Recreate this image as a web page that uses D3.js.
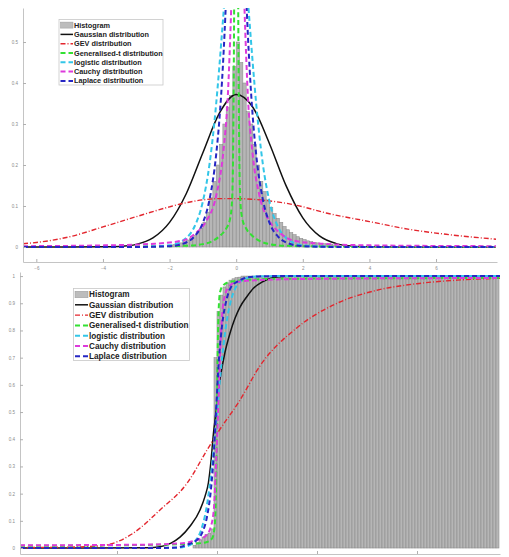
<!DOCTYPE html>
<html>
<head>
<meta charset="utf-8">
<script src="https://cdn.jsdelivr.net/npm/d3@7"></script>
<style>
  body { margin: 0; background: #fff; }
  text { font-family: "Liberation Sans", Arial, sans-serif; }
</style>
</head>
<body>
<svg id="chart" width="509" height="557"></svg>
<script>

// ---- top panel: density ----
var histTopStart = -2.0, histTopWidth = 0.1;
var histTopHeights = [0.004, 0.006, 0.008, 0.01, 0.013, 0.017, 0.022, 0.028, 0.035, 0.045,
                      0.06, 0.085, 0.12, 0.16, 0.2, 0.25, 0.3, 0.34, 0.37, 0.44,
                      0.5, 0.45, 0.4, 0.33, 0.3, 0.25, 0.2, 0.16, 0.135, 0.115,
                      0.097, 0.082, 0.07, 0.06, 0.05, 0.042, 0.035, 0.03, 0.025, 0.021,
                      0.018, 0.015, 0.013, 0.011, 0.01, 0.009, 0.008, 0.007, 0.006, 0.005];

var gaussPdfX = [-6.4, -5, -4, -3.5, -3, -2.5, -2, -1.5, -1, -0.5, 0, 0.5, 1, 1.5, 2, 2.5, 3, 3.5, 4, 5, 7.8];
var gaussPdfY = [0, 0, 0.0003, 0.0015, 0.0064, 0.022, 0.06, 0.13, 0.23, 0.327, 0.372, 0.341, 0.252, 0.149, 0.071, 0.027, 0.0083, 0.0021, 0.0005, 0, 0];

var gevPdfX = [-6.4, -6, -5, -4, -3, -2, -1.5, -1, -0.5, 0, 0.7, 1.8, 2.7, 4, 5.2, 6.3, 7.8];
var gevPdfY = [0.008, 0.011, 0.025, 0.049, 0.074, 0.098, 0.108, 0.115, 0.118, 0.118, 0.115, 0.102, 0.083, 0.062, 0.043, 0.031, 0.019];

var gentPdfX = [-6.4, -3, -1.5, -1, -0.7, -0.45, -0.3, -0.18, -0.12, -0.09, -0.06, -0.03, 0, 0.03, 0.06, 0.09, 0.12, 0.18, 0.3, 0.45, 0.7, 1, 1.5, 3, 7.8];
var gentPdfY = [0.0003, 0.001, 0.003, 0.007, 0.015, 0.03, 0.045, 0.07, 0.12, 0.25, 0.6, 1.2, 3, 1.2, 0.6, 0.25, 0.12, 0.07, 0.045, 0.03, 0.015, 0.007, 0.003, 0.001, 0.0003];

var logisPdfX = [-6.4, -3, -2, -1.5, -1.25, -1, -0.8, -0.6, -0.5, -0.4, -0.3, -0.2, -0.1, 0, 0.1, 0.2, 0.3, 0.4, 0.5, 0.6, 0.8, 1, 1.25, 1.5, 2, 3, 7.8];
var logisPdfY = [0, 0.0002, 0.0042, 0.022, 0.05, 0.111, 0.2025, 0.35, 0.4455, 0.55, 0.655, 0.747, 0.811, 0.833, 0.811, 0.747, 0.655, 0.55, 0.4455, 0.35, 0.2025, 0.111, 0.05, 0.022, 0.0042, 0.0002, 0];

var cauchyPdfX = [-6.4, -3.95, -2.45, -1.6, -1.2, -0.9, -0.6, -0.38, -0.25, -0.15, -0.05, 0.05, 0.15, 0.25, 0.35, 0.48, 0.7, 1.0, 1.3, 1.7, 2.55, 4.05, 7.8];
var cauchyPdfY = [0.002, 0.004, 0.008, 0.016, 0.035, 0.063, 0.125, 0.237, 0.37, 0.58, 0.85, 1.1, 0.85, 0.58, 0.37, 0.237, 0.125, 0.063, 0.035, 0.016, 0.008, 0.004, 0.002];

var laplacePdfX = [-6.4, -3, -2, -1.5, -1.25, -1, -0.8, -0.6, -0.5, -0.4, -0.3, -0.2, -0.1, 0, 0.1, 0.2, 0.3, 0.4, 0.5, 0.6, 0.8, 1, 1.25, 1.5, 2, 3, 7.8];
var laplacePdfY = [0, 0.0001, 0.002, 0.011, 0.026, 0.059, 0.116, 0.226, 0.315, 0.44, 0.614, 0.857, 1.196, 1.67, 1.196, 0.857, 0.614, 0.44, 0.315, 0.226, 0.116, 0.059, 0.026, 0.011, 0.002, 0.0001, 0];

var topTicksX = [-6, -4, -2, 0, 2, 4, 6];
var topTicksY = [0, 0.1, 0.2, 0.3, 0.4, 0.5];

// ---- bottom panel: cumulative ----
var histBotStart = -1.2, histBotWidth = 0.15;
var histBotHeights = [0.01, 0.02, 0.03, 0.04, 0.05, 0.055, 0.07, 0.7, 0.87, 0.93,
                      0.96, 0.975, 0.985, 0.99, 0.994, 0.996, 1, 1, 1, 1,
                      1, 1, 1, 1, 1, 1, 1, 1, 1, 1,
                      1, 1, 1, 1, 1, 1, 1, 1, 1, 1,
                      1, 1, 1, 1, 1, 1, 1, 1, 1, 1,
                      1, 1, 1, 1, 1, 1, 1, 1, 1, 1,
                      1, 1, 1, 1, 1, 1, 1, 1, 1, 1,
                      1, 1, 1, 1, 1, 1, 1, 1, 1, 1,
                      1, 1, 1, 1, 1, 1, 1, 1, 1, 1,
                      1, 1, 1, 1, 1, 1, 1, 1, 1, 1,
                      1, 1];

var gaussCdfX = [-9.85, -3.5, -2.85, -2.3, -1.85, -1.35, -0.85, -0.6, -0.43, -0.3, -0.18, -0.05, 0.15, 0.4, 0.65, 0.9, 1.15, 1.5, 1.82, 2.3, 2.98, 4, 14.15];
var gaussCdfY = [0, 0.001, 0.005, 0.018, 0.04, 0.08, 0.14, 0.19, 0.24, 0.32, 0.42, 0.5, 0.62, 0.72, 0.79, 0.845, 0.886, 0.925, 0.955, 0.98, 0.997, 1, 1];

var gevCdfX = [-9.85, -7.5, -5.8, -4.2, -2.85, -1.5, -0.5, 0, 1.15, 2.15, 4, 6, 8, 10, 12, 14.15];
var gevCdfY = [0.002, 0.003, 0.008, 0.054, 0.14, 0.238, 0.36, 0.42, 0.544, 0.67, 0.81, 0.9, 0.948, 0.972, 0.985, 0.992];

var gentCdfX = [-9.85, -3, -1.5, -0.8, -0.5, -0.25, -0.15, -0.07, -0.03, 0, 0.03, 0.07, 0.15, 0.3, 0.6, 1.5, 3, 14.15];
var gentCdfY = [0.008, 0.012, 0.015, 0.018, 0.022, 0.035, 0.06, 0.15, 0.3, 0.5, 0.7, 0.85, 0.94, 0.965, 0.978, 0.986, 0.99, 0.993];

var logisCdfX = [-9.85, -3, -2, -1.5, -1, -0.75, -0.5, -0.25, 0, 0.25, 0.5, 0.75, 1, 1.5, 2, 3, 14.15];
var logisCdfY = [0, 0.0001, 0.0013, 0.0067, 0.0344, 0.076, 0.159, 0.303, 0.5, 0.697, 0.841, 0.924, 0.966, 0.993, 0.9987, 1, 1];

var cauchyCdfX = [-9.85, -4, -1.85, -1.1, -0.75, -0.5, -0.3, -0.15, -0.05, 0.05, 0.15, 0.25, 0.4, 0.65, 1, 2, 5, 14.15];
var cauchyCdfY = [0.01, 0.012, 0.017, 0.027, 0.036, 0.05, 0.08, 0.15, 0.3, 0.5, 0.7, 0.85, 0.93, 0.965, 0.978, 0.985, 0.99, 0.993];

var laplaceCdfX = [-9.85, -3, -2, -1.5, -1, -0.75, -0.5, -0.3, -0.15, -0.05, 0.1, 0.25, 0.5, 0.75, 1, 1.5, 2, 3, 14.15];
var laplaceCdfY = [0, 0, 0.002, 0.012, 0.03, 0.055, 0.115, 0.217, 0.358, 0.5, 0.697, 0.816, 0.92, 0.965, 0.979, 0.9945, 0.9985, 1, 1];

var botTicksX = [-5, 0, 5, 10];
var botTicksY = [0, 0.1, 0.2, 0.3, 0.4, 0.5, 0.6, 0.7, 0.8, 0.9, 1];

var names = ["Histogram", "Gaussian distribution", "GEV distribution", "Generalised-t distribution",
             "logistic distribution", "Cauchy distribution", "Laplace distribution"];

// line styles, one per fitted curve (same order as names without the histogram)
var styles = [
  {color: "#111111", dash: null, width: 1.5},
  {color: "#e3262e", dash: "5,2,1,2", width: 1.4},
  {color: "#33e033", dash: "5,3", width: 2},
  {color: "#33c6e8", dash: "5,3", width: 2},
  {color: "#dd3adb", dash: "5,3", width: 2},
  {color: "#2626c4", dash: "5,3", width: 2}
];

var svg = d3.select("#chart");

function drawPanel(cfg) {
  var g = svg.append("g");
  var x = cfg.x, y = cfg.y;
  var clipId = cfg.id + "-clip";

  svg.append("clipPath").attr("id", clipId)
    .append("rect")
      .attr("x", x.range()[0]).attr("y", y.range()[1])
      .attr("width", x.range()[1] - x.range()[0])
      .attr("height", y.range()[0] - y.range()[1]);

  var plot = g.append("g").attr("clip-path", "url(#" + clipId + ")");

  // histogram bars
  plot.selectAll(".bar")
    .data(cfg.bars)
    .enter().append("rect")
      .attr("class", "bar")
      .attr("x", function(d, i) { return x(cfg.barStart + i * cfg.barWidth); })
      .attr("width", function(d, i) { return x(cfg.barStart + (i + 1) * cfg.barWidth) - x(cfg.barStart + i * cfg.barWidth); })
      .attr("y", function(d) { return y(d); })
      .attr("height", function(d) { return y(0) - y(d); })
      .attr("fill", "#b6b6b6")
      .attr("stroke", "#8a8a8a")
      .attr("stroke-width", 0.55);

  var line = d3.line()
    .x(function(d) { return x(d[0]); })
    .y(function(d) { return y(d[1]); })
    .curve(d3.curveMonotoneX);

  cfg.curves.forEach(function(c, i) {
    var pts = d3.zip(c[0], c[1]);
    plot.append("path")
      .datum(pts)
      .attr("d", line)
      .attr("fill", "none")
      .attr("stroke", styles[i].color)
      .attr("stroke-width", styles[i].width)
      .attr("stroke-dasharray", styles[i].dash);
  });

  // axes
  var axisColor = "#c4c4c4", labelColor = "#8a8a8a";
  var yAxis = g.append("g")
    .attr("transform", "translate(" + x.range()[0] + ",0)")
    .call(d3.axisLeft(y).tickValues(cfg.ticksY).tickSizeInner(-3).tickSizeOuter(0).tickPadding(5)
      .tickFormat(d3.format("~g")));
  var xAxis = g.append("g")
    .attr("transform", "translate(0," + y.range()[0] + ")")
    .call(d3.axisBottom(x).tickValues(cfg.ticksX).tickSizeInner(-3).tickSizeOuter(0).tickPadding(5)
      .tickFormat(cfg.xLabels ? d3.format("~g") : function() { return ""; }));

  [xAxis, yAxis].forEach(function(a) {
    a.select(".domain").attr("stroke", axisColor).attr("stroke-width", 1);
    a.selectAll(".tick line").attr("stroke", "#b0b0b0");
    a.selectAll(".tick text").attr("fill", labelColor).attr("font-size", cfg.tickFont)
      .style("font-family", "'Liberation Sans', Arial, sans-serif");
  });

  // legend
  var L = cfg.legend;
  var leg = g.append("g");
  leg.append("rect")
    .attr("x", L.x).attr("y", L.y).attr("width", L.w).attr("height", L.h)
    .attr("fill", "#fff").attr("stroke", "#c8c8c8").attr("stroke-width", 0.8);

  names.forEach(function(n, i) {
    var cy = L.y + L.first + i * L.step;
    if (i === 0) {
      leg.append("rect")
        .attr("x", L.x + 1.5).attr("y", cy - L.patch / 2)
        .attr("width", L.sample).attr("height", L.patch)
        .attr("fill", "#bcbcbc").attr("stroke", "#9a9a9a").attr("stroke-width", 0.5);
    } else {
      var s = styles[i - 1];
      leg.append("line")
        .attr("x1", L.x + 1.5).attr("x2", L.x + 1.5 + L.sample)
        .attr("y1", cy).attr("y2", cy)
        .attr("stroke", s.color).attr("stroke-width", s.width)
        .attr("stroke-dasharray", s.dash);
    }
    leg.append("text")
      .attr("x", L.x + L.sample + 2.5).attr("y", cy)
      .attr("dy", "0.35em")
      .attr("font-size", L.font).attr("font-weight", "bold").attr("fill", "#222")
      .text(n);
  });
}

drawPanel({
  id: "top",
  x: d3.scaleLinear().domain([-6.4, 7.83]).range([23, 497]),
  y: d3.scaleLinear().domain([-0.0366, 0.583]).range([262, 8]),
  bars: histTopHeights, barStart: histTopStart, barWidth: histTopWidth,
  curves: [[gaussPdfX, gaussPdfY], [gevPdfX, gevPdfY], [gentPdfX, gentPdfY],
           [logisPdfX, logisPdfY], [cauchyPdfX, cauchyPdfY], [laplacePdfX, laplacePdfY]],
  ticksX: topTicksX, ticksY: topTicksY, xLabels: true, tickFont: "4.5px",
  legend: {x: 59, y: 19.5, w: 104, h: 65.5, first: 5.6, step: 9.3, sample: 12.5, patch: 6, font: "7.3px"}
});

drawPanel({
  id: "bot",
  x: d3.scaleLinear().domain([-9.85, 14.15]).range([20, 500]),
  y: d3.scaleLinear().domain([-0.022, 1.015]).range([554, 272]),
  bars: histBotHeights, barStart: histBotStart, barWidth: histBotWidth,
  curves: [[gaussCdfX, gaussCdfY], [gevCdfX, gevCdfY], [gentCdfX, gentCdfY],
           [logisCdfX, logisCdfY], [cauchyCdfX, cauchyCdfY], [laplaceCdfX, laplaceCdfY]],
  ticksX: botTicksX, ticksY: botTicksY, xLabels: false, tickFont: "4.5px",
  legend: {x: 73.5, y: 288.5, w: 116, h: 72, first: 6, step: 10.3, sample: 13, patch: 6.5, font: "8.2px"}
});

</script>
</body>
</html>
